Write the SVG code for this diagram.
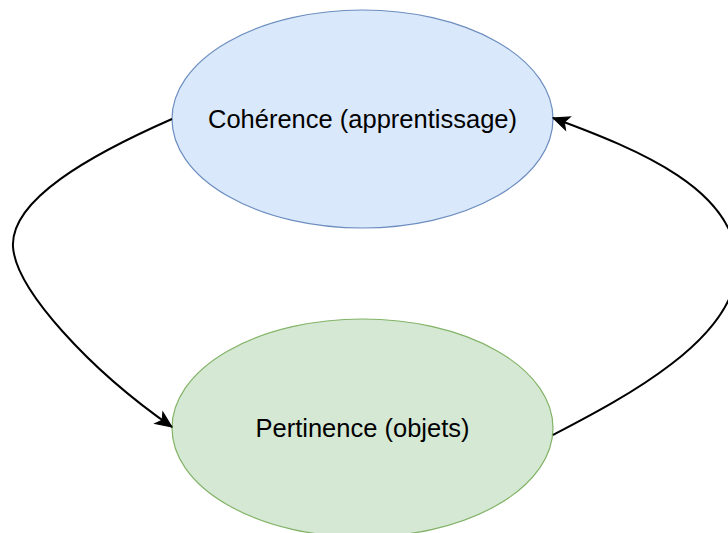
<svg xmlns="http://www.w3.org/2000/svg" width="728" height="533" viewBox="0 0 728 533">
<style>
.lbl{font-family:"Liberation Sans",Arial,Helvetica,sans-serif;font-size:25.5px;fill:#000;text-anchor:middle}
.edge{fill:none;stroke:#000;stroke-width:2}
</style>
<defs>
<marker id="arr" markerUnits="userSpaceOnUse" markerWidth="20" markerHeight="20" viewBox="0 0 20 20" refX="18" refY="10" orient="auto">
<path d="M2,3 L18,10 L2,17 L6,10 z" fill="#000" stroke="#000" stroke-width="1" stroke-linejoin="miter"/>
</marker>
</defs>
<rect width="728" height="533" fill="#fff"/>
<g id="node-coherence">
<ellipse cx="362.5" cy="119" rx="190.5" ry="109" fill="#dae8fc" stroke="#6c8ebf" stroke-width="1.2"/>
<text class="lbl" x="362.5" y="128">Cohérence (apprentissage)</text>
</g>
<g id="node-pertinence">
<ellipse cx="362.5" cy="428" rx="190.5" ry="109" fill="#d5e8d4" stroke="#82b366" stroke-width="1.2"/>
<text class="lbl" x="362.5" y="437">Pertinence (objets)</text>
</g>
<g id="connectors">
<path class="edge" d="M172,119 C90,155 10,200 13,247 C16,290 90,370 172,427" marker-end="url(#arr)"/>
<path class="edge" d="M553,435 C620,400 737,340 737,265 C737,190 640,150 553,118" marker-end="url(#arr)"/>
</g>
</svg>
